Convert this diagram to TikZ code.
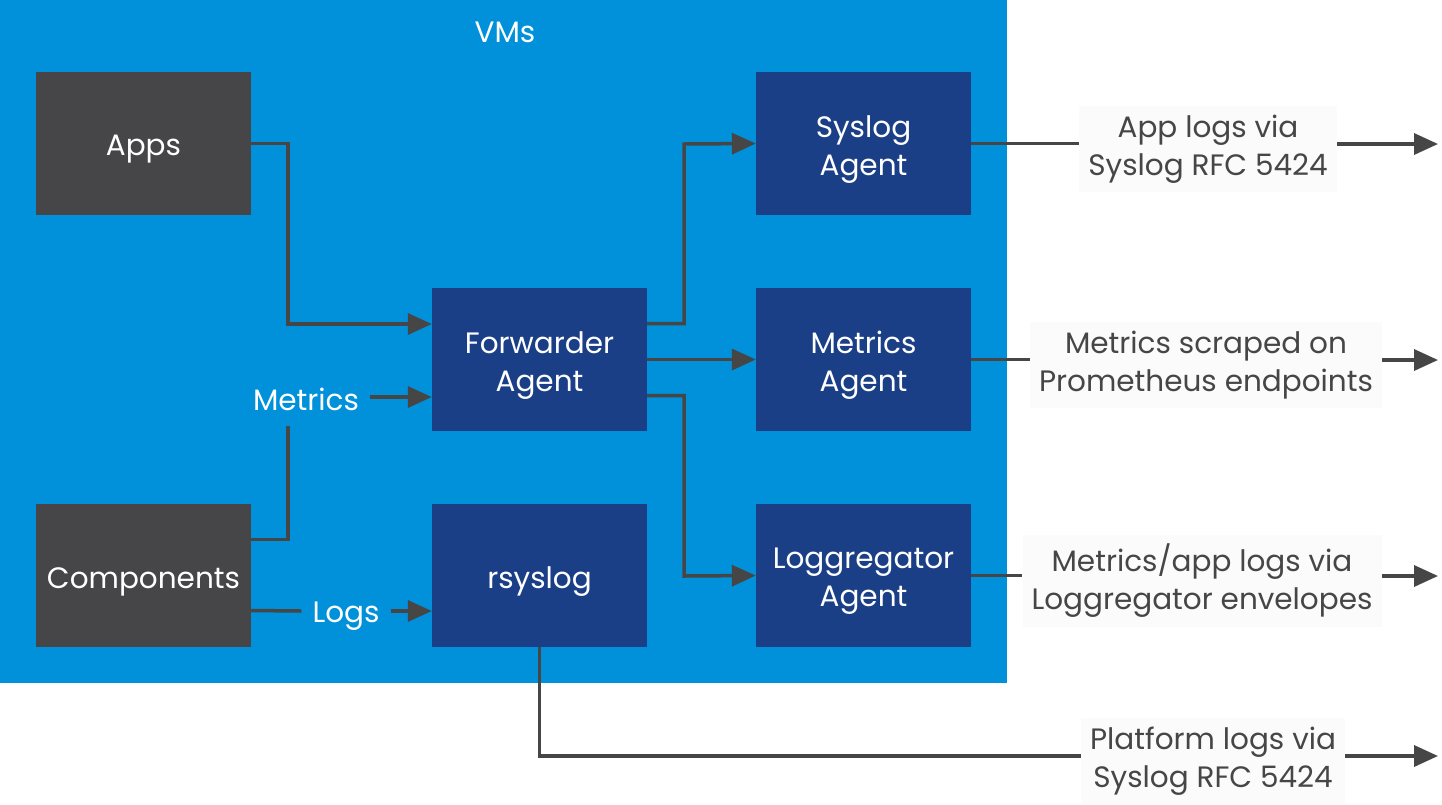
\documentclass[tikz,border=0pt]{standalone}
\usepackage{fontspec}
\setmainfont{Poppins}
\usetikzlibrary{arrows.meta}
\definecolor{vmblue}{HTML}{0091DA}
\definecolor{agentblue}{HTML}{1B3F87}
\definecolor{boxgrey}{HTML}{464648}
\definecolor{linegrey}{HTML}{464646}
\definecolor{labelbg}{HTML}{FBFBFC}
\tikzset{
  mainfont/.style={font=\fontsize{29.5}{38}\selectfont},
  boxtext/.style={text=white,align=center,mainfont,yshift=-6pt,inner sep=0pt},
  box/.style={minimum width=215pt,minimum height=143pt,inner sep=0pt,label={[boxtext]center:#1}},
  srcbox/.style={box={#1},fill=boxgrey},
  agentbox/.style={box={#1},fill=agentblue},
  conn/.style={draw=linegrey,line width=3.5pt},
  arr/.style={conn,-{Triangle[length=24pt,width=21pt]}},
  inlabel/.style={text=white,mainfont,inner xsep=11pt,inner ysep=10pt},
  outlabel/.style={fill=labelbg,text=linegrey,align=center,mainfont,inner xsep=9pt,inner ysep=9pt},
}
\begin{document}
\begin{tikzpicture}[x=1pt,y=-1pt]
\useasboundingbox (0,0) rectangle (1442,804);
\fill[vmblue] (0,0) rectangle (1007,683);
\node[text=white,mainfont] (vms) at (505,32) {VMs};
\node[srcbox={Apps}] (apps) at (143.5,143.5) {};
\node[srcbox={Components}] (comp) at (143.5,575.5) {};
\node[agentbox={Forwarder\\Agent}] (fwd) at (539.5,359.5) {};
\node[agentbox={rsyslog}] (rsys) at (539.5,575.5) {};
\node[agentbox={Syslog\\Agent}] (sysa) at (863.5,143.5) {};
\node[agentbox={Metrics\\Agent}] (meta) at (863.5,359.5) {};
\node[agentbox={Loggregator\\Agent}] (logga) at (863.5,575.5) {};
\node[inlabel] (metrics) at (306,399) {Metrics};
\node[inlabel] (logs) at (346,616) {Logs};
\node[outlabel] (l1) at (1208,149) {App logs via\\Syslog RFC 5424};
\node[outlabel] (l2) at (1206,365) {Metrics scraped on\\Prometheus endpoints};
\node[outlabel] (l3) at (1202,581) {Metrics/app logs via\\Loggregator envelopes};
\node[outlabel] (l4) at (1213,761) {Platform logs via\\Syslog RFC 5424};
\coordinate (e1) at (1438,144);
\coordinate (e2) at (1438,360);
\coordinate (e3) at (1438,576);
\coordinate (e4) at (1438,756);
\coordinate (mtail) at (288,426);
% left side
\draw[arr] (apps.east) -| (288,324) -- (fwd.west |- 0,324);
\draw[arr] (metrics.east |- 0,397) -- (fwd.west |- 0,397);
\draw[conn] ([yshift=36pt]comp.east) -| (mtail);
\draw[conn] ([yshift=-35pt]comp.east) -- (logs.west |- 0,611);
\draw[arr] (logs.east |- 0,611) -- (rsys.west |- 0,611);
% forwarder outputs
\draw[arr] ([yshift=36pt]fwd.east) -| (684,144) -- (sysa.west);
\draw[arr] (fwd.east) -- (meta.west);
\draw[arr] ([yshift=-36pt]fwd.east) -| (684,576) -- (logga.west);
% outputs
\draw[conn] (sysa.east) -- (l1.west |- sysa.east);
\draw[arr] (l1.east |- e1) -- (e1);
\draw[conn] (meta.east) -- (l2.west |- meta.east);
\draw[arr] (l2.east |- e2) -- (e2);
\draw[conn] (logga.east) -- (l3.west |- logga.east);
\draw[arr] (l3.east |- e3) -- (e3);
\draw[conn] (rsys.south) |- (l4.west |- e4);
\draw[arr] (l4.east |- e4) -- (e4);
\end{tikzpicture}
\end{document}
